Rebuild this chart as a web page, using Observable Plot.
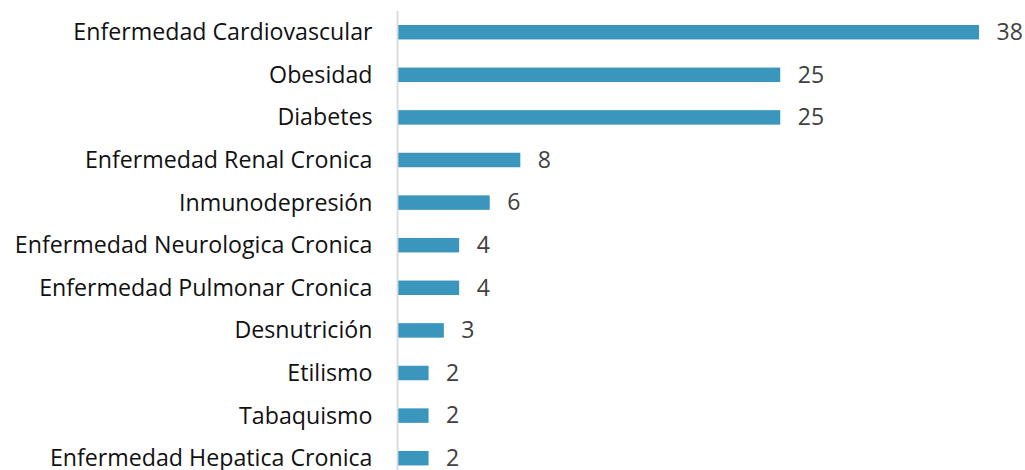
<!DOCTYPE html>
<html><head><meta charset="utf-8">
<script src="https://cdn.jsdelivr.net/npm/d3@7"></script>
<script src="https://cdn.jsdelivr.net/npm/@observablehq/plot@0.6"></script>
<style>body{margin:0;background:#fff;} svg{display:block;}</style>
</head><body><div id="chart"></div>
<script>
const categories = ["Enfermedad Cardiovascular","Obesidad","Diabetes","Enfermedad Renal Cronica","Inmunodepresión","Enfermedad Neurologica Cronica","Enfermedad Pulmonar Cronica","Desnutrición","Etilismo","Tabaquismo","Enfermedad Hepatica Cronica"];
const values = [38,25,25,8,6,4,4,3,2,2,2];
const data = categories.map((c,i)=>({cat:c, v:values[i]}));
const font = "'Open Sans', sans-serif";
const chart = Plot.plot({
  width: 1025, height: 470,
  marginLeft: 398, marginRight: 46, marginTop: 11, marginBottom: 0,
  style: {fontFamily: font, background: "#fff"},
  x: {domain: [0, 38], axis: null},
  y: {domain: categories, range: [10.9, 479.5], round: false, paddingInner: 0.66, paddingOuter: 0.33, label: null},
  marks: [
    Plot.barX(data, {x: "v", y: "cat", fill: "#3A96BD"}),
    Plot.ruleX([0], {stroke: "#d9d9d9", strokeWidth: 1.8, dx: -1}),
    Plot.axisY({tickSize: 0, tickPadding: 26, fontSize: 23.2, fill: "#111", label: null}),
    Plot.text(data, {x: "v", y: "cat", text: d => String(d.v), textAnchor: "start", dx: 17, fontSize: 23, fill: "#404040"})
  ]
});
document.getElementById("chart").appendChild(chart);
</script></body></html>
